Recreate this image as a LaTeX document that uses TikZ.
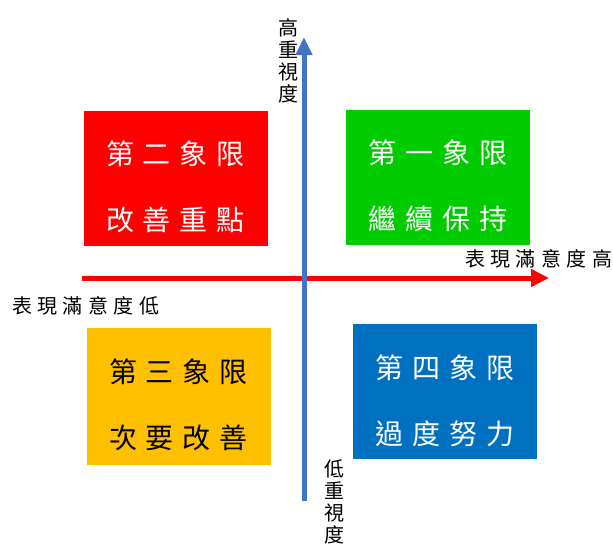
\documentclass[tikz,border=0pt]{standalone}
\usepackage{fontspec}
\newfontfamily\cjk{Noto Sans CJK TC}
\usetikzlibrary{arrows.meta}
\definecolor{qred}{HTML}{FF0000}
\definecolor{qgreen}{HTML}{00CC00}
\definecolor{qyellow}{HTML}{FFC000}
\definecolor{qblue}{HTML}{0070C0}
\definecolor{axblue}{HTML}{4472C4}
\newcommand{\gapA}{\hspace{9pt}}
\newcommand{\gapB}{\hspace{5.4pt}}
\tikzset{
  quad/.style={minimum width=184pt, minimum height=135pt, inner sep=0pt, draw=none},
  qtext/.style={font=\cjk\fontsize{28pt}{66pt}\selectfont, align=center, inner sep=0pt},
  axlabel/.style={font=\cjk\fontsize{20pt}{22pt}\selectfont, inner sep=0pt, align=center},
}
\begin{document}
\begin{tikzpicture}[x=1pt,y=-1pt]
\useasboundingbox (0,0) rectangle (613,547);
% quadrants
\node[quad, fill=qred] (q2) at (175.5,178) {};
\node[qtext, text=white] (t2) at ([yshift=-9pt]q2.center)
  {第\gapA 二\gapA 象\gapA 限\\改\gapA 善\gapA 重\gapA 點};
\node[quad, fill=qgreen] (q1) at (438,177) {};
\node[qtext, text=white] (t1) at ([yshift=-9pt]q1.center)
  {第\gapA 一\gapA 象\gapA 限\\繼\gapA 續\gapA 保\gapA 持};
\node[quad, fill=qyellow, minimum height=137pt] (q3) at (178.5,396) {};
\node[qtext, text=black] (t3) at ([yshift=-9pt]q3.center)
  {第\gapA 三\gapA 象\gapA 限\\次\gapA 要\gapA 改\gapA 善};
\node[quad, fill=qblue, minimum height=135pt] (q4) at (445,391) {};
\node[qtext, text=white] (t4) at ([yshift=-10pt]q4.center)
  {第\gapA 四\gapA 象\gapA 限\\過\gapA 度\gapA 努\gapA 力};
% axes
\coordinate (hs) at (82,278);
\coordinate (he) at (549,278);
\coordinate (vs) at (304,501);
\coordinate (ve) at (304,37);
\draw[qred, line width=5pt, -{Triangle[length=18pt,width=17pt]}] (hs) -- (he);
\draw[axblue, line width=5pt, -{Triangle[length=18pt,width=16pt]}] (vs) -- (ve);
% labels
\node[axlabel, anchor=west] (llow) at (12,306) {表\gapB 現\gapB 滿\gapB 意\gapB 度\gapB 低};
\node[axlabel, anchor=west] (lhigh) at (465,259) {表\gapB 現\gapB 滿\gapB 意\gapB 度\gapB 高};
\node[axlabel, anchor=north] (vhigh) at (288,18) {高\\重\\視\\度};
\node[axlabel, anchor=north] (vlow) at (334,459) {低\\重\\視\\度};
\end{tikzpicture}
\end{document}
